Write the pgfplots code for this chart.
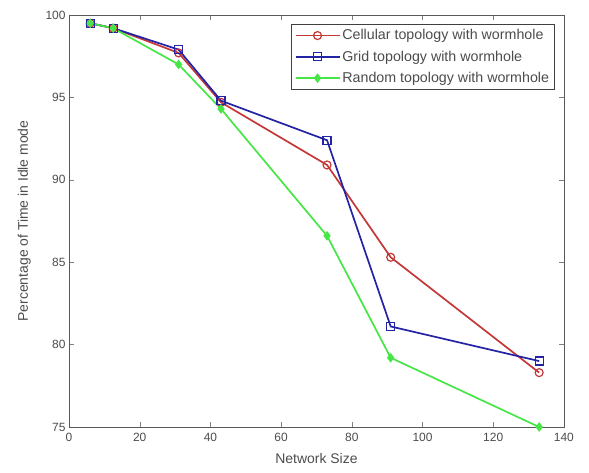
\documentclass[border=0pt]{standalone}
\usepackage{pgfplots}
\pgfplotsset{compat=1.18}
\usepackage{fontspec}
\setmainfont{Liberation Sans}
\definecolor{cred}{RGB}{195,55,55}
\definecolor{cblue}{RGB}{35,35,165}
\definecolor{cgreen}{RGB}{70,230,70}
\begin{document}
\begin{tikzpicture}
\useasboundingbox (-69bp,-46bp) rectangle (520bp,427bp);
\begin{axis}[
  x=3.535bp, y=16.48bp,
  scale only axis,
  xmin=0, xmax=140, ymin=75, ymax=100,
  xtick={0,20,...,140}, ytick={75,80,...,100},
  tick align=inside, tick pos=both,
  major tick length=5bp,
  tick label style={font=\fontsize{12}{13}\selectfont, text=black!70},
  xticklabel style={yshift=-3bp},
  /pgf/number format/assume math mode=true,
  xlabel={Network Size}, ylabel={Percentage of Time in Idle mode},
  label style={font=\fontsize{14}{16}\selectfont, text=black!70},
  xlabel style={yshift=-5bp},
  ylabel style={yshift=8bp},
  axis line style={black!65},
  legend style={at={(0.9805,0.977)}, anchor=north east, font=\fontsize{14.3}{16}\selectfont, draw=black!75, inner sep=3bp, row sep=5.5bp, text=black!70},
  legend cell align=left,
  legend image code/.code={\draw[mark repeat=2,mark phase=2,#1] plot coordinates {(0bp,0bp) (22bp,0bp) (44bp,0bp)};},
]
\addplot[cred, line width=1.7pt, mark=o, mark size=4pt, mark options={line width=1.2pt}] coordinates {
 (6,99.5) (12.5,99.2) (31,97.7) (43,94.7) (73,90.9) (91,85.3) (133,78.3)};
\addlegendentry{Cellular topology with wormhole}
\addplot[cblue, line width=1.7pt, mark=square, mark size=4pt, mark options={line width=1.2pt}] coordinates {
 (6,99.5) (12.5,99.2) (31,97.9) (43,94.8) (73,92.4) (91,81.1) (133,79.0)};
\addlegendentry{Grid topology with wormhole}
\addplot[cgreen, line width=1.7pt, mark=diamond*, mark size=3.5pt] coordinates {
 (6,99.5) (12.5,99.2) (31,97.0) (43,94.3) (73,86.6) (91,79.2) (133,75.0)};
\addlegendentry{Random topology with wormhole}
\end{axis}
\end{tikzpicture}
\end{document}
